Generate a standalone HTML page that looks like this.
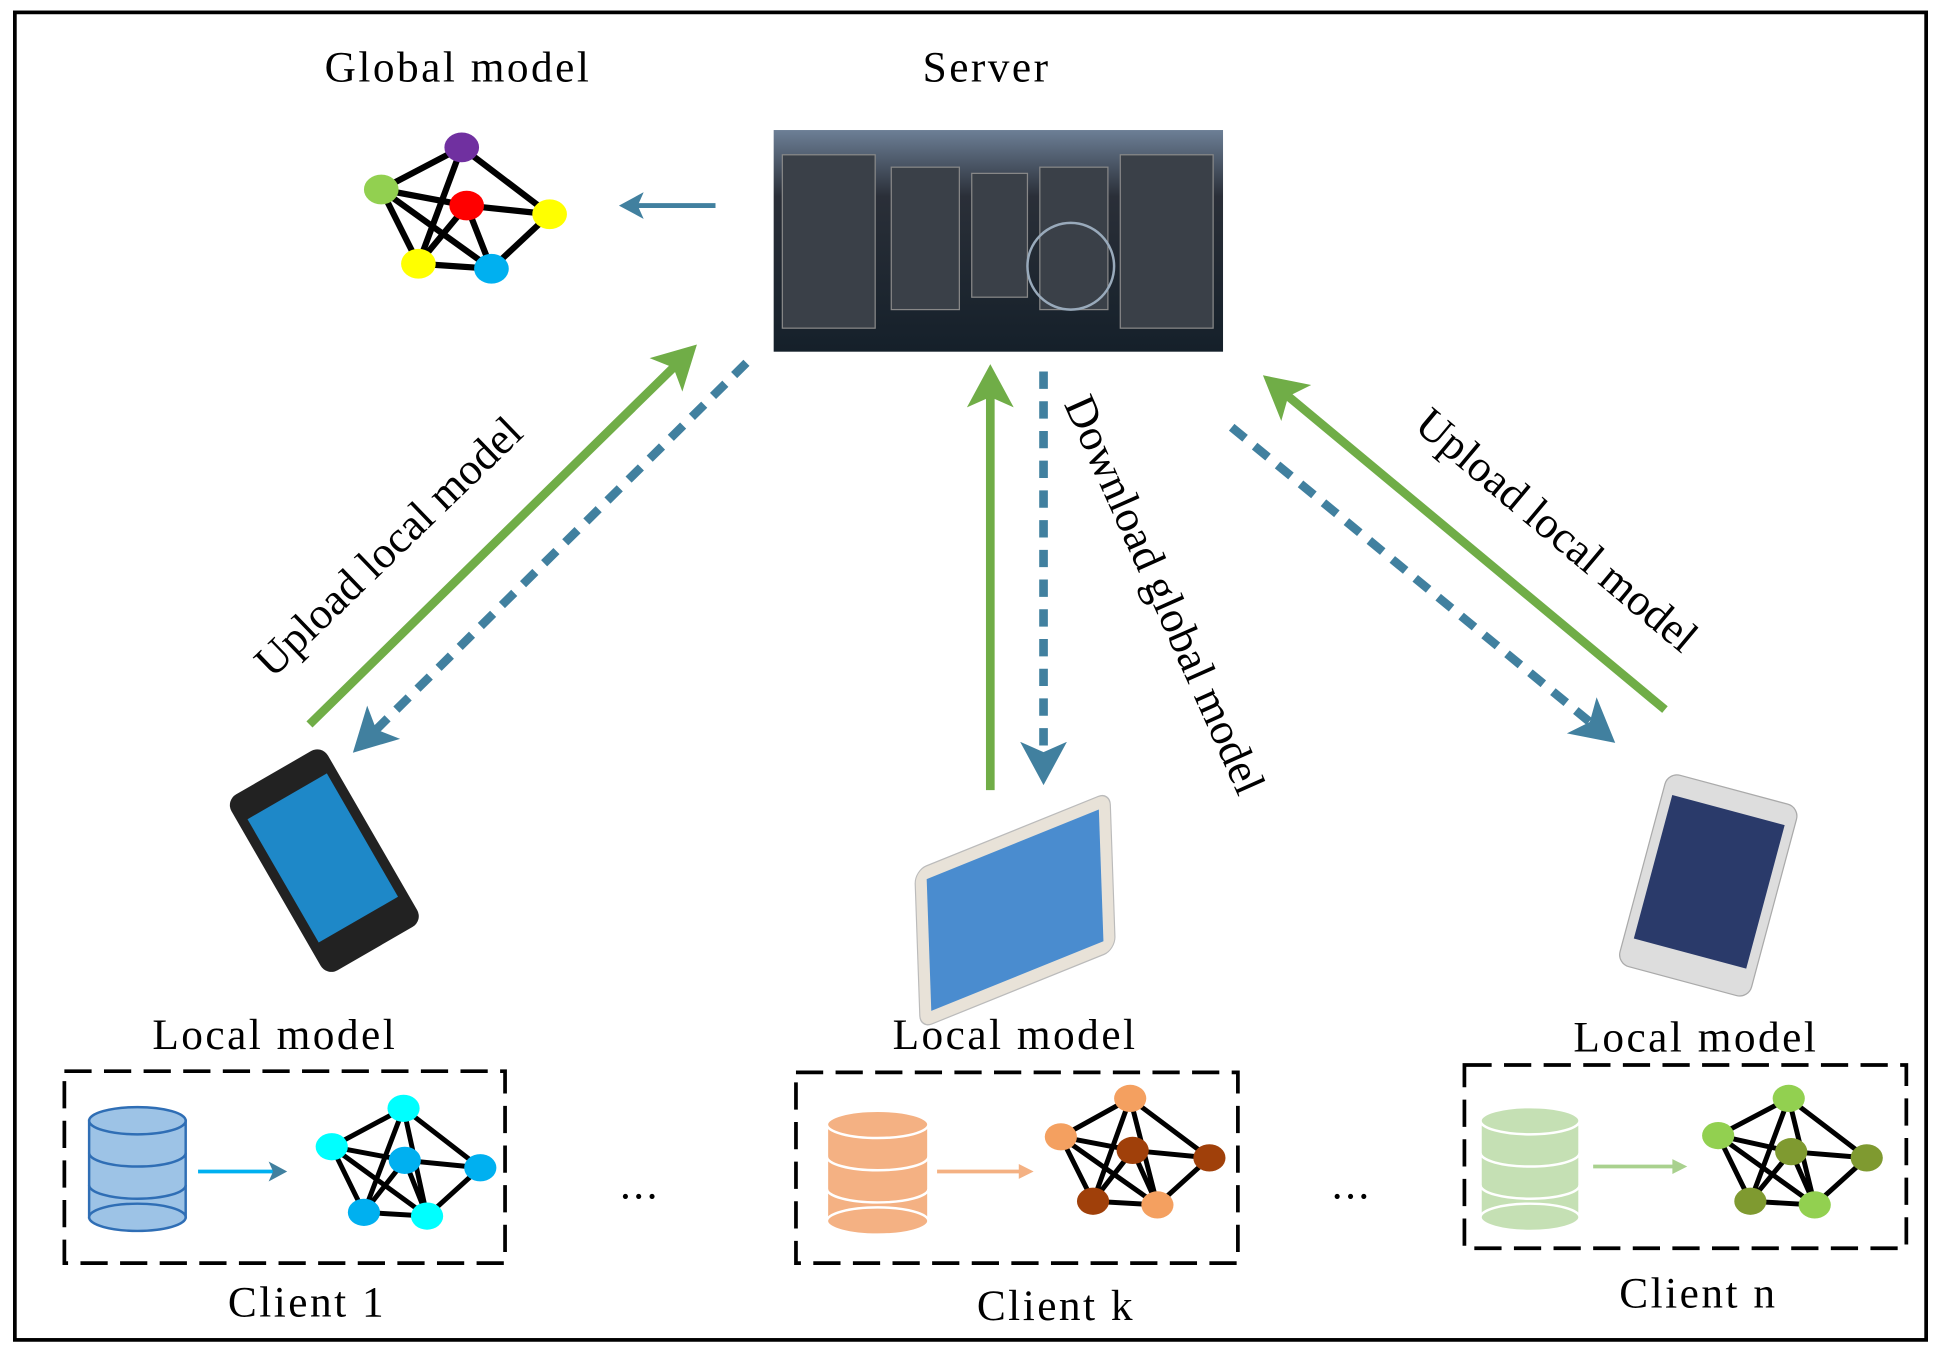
<!DOCTYPE html>
<html><head><meta charset="utf-8"><style>html,body{margin:0;padding:0;background:#fff}svg{display:block}</style></head>
<body>
<svg width="1941" height="1356" viewBox="0 0 1568 1095" preserveAspectRatio="none" xmlns="http://www.w3.org/2000/svg" font-family="Liberation Serif, serif">
<defs>
<marker id="ga" markerWidth="6" markerHeight="6" refX="3" refY="3" orient="auto" markerUnits="strokeWidth"><path d="M0,0.3 L5,3 L0,5.7 L1.2,3 Z" fill="#70ad47"/></marker>
<marker id="ba" markerWidth="6" markerHeight="6" refX="3" refY="3" orient="auto" markerUnits="strokeWidth"><path d="M0,0.3 L5,3 L0,5.7 L1.2,3 Z" fill="#41809f"/></marker>
<linearGradient id="srv" x1="0" y1="0" x2="0" y2="1"><stop offset="0" stop-color="#6d7f96"/><stop offset="0.3" stop-color="#2a2f38"/><stop offset="1" stop-color="#15202a"/></linearGradient>
</defs>
<rect x="12" y="10" width="1544" height="1072" fill="#fff" stroke="#000" stroke-width="3"/>
<g font-size="35" text-anchor="middle" letter-spacing="2">
<text x="370" y="66">Global  model</text>
<text x="797" y="66">Server</text>
<text x="222" y="847">Local model</text>
<text x="820" y="847">Local model</text>
<text x="1370" y="849">Local model</text>
<text x="248" y="1063">Client 1</text>
<text x="853" y="1066">Client k</text>
<text x="1372" y="1056">Client n</text>
<text x="517" y="968">...</text>
<text x="1092" y="968">...</text>
</g>
<g stroke="#000" stroke-width="5">
<line x1="373" y1="119" x2="308" y2="153"/><line x1="373" y1="119" x2="444" y2="173"/><line x1="373" y1="119" x2="338" y2="213"/>
<line x1="308" y1="153" x2="377" y2="166"/><line x1="308" y1="153" x2="338" y2="213"/><line x1="308" y1="153" x2="397" y2="217"/>
<line x1="377" y1="166" x2="444" y2="173"/><line x1="377" y1="166" x2="338" y2="213"/><line x1="377" y1="166" x2="397" y2="217"/>
<line x1="444" y1="173" x2="397" y2="217"/><line x1="338" y1="213" x2="397" y2="217"/>
</g>
<ellipse cx="373" cy="119" rx="14" ry="12" fill="#7030a0"/><ellipse cx="308" cy="153" rx="14" ry="12" fill="#92d050"/>
<ellipse cx="377" cy="166" rx="14" ry="12" fill="#f00"/><ellipse cx="444" cy="173" rx="14" ry="12" fill="#ff0"/>
<ellipse cx="338" cy="213" rx="14" ry="12" fill="#ff0"/><ellipse cx="397" cy="217" rx="14" ry="12" fill="#00b0f0"/>
<line x1="578" y1="166" x2="508" y2="166" stroke="#41809f" stroke-width="4" marker-end="url(#ba)"/>
<rect x="625" y="105" width="363" height="179" fill="url(#srv)"/>
<g fill="#3a4048" stroke="#888" stroke-width="1">
<rect x="632" y="125" width="75" height="140"/><rect x="720" y="135" width="55" height="115"/><rect x="785" y="140" width="45" height="100"/><rect x="840" y="135" width="55" height="115"/><rect x="905" y="125" width="75" height="140"/>
</g>
<circle cx="865" cy="215" r="35" fill="none" stroke="#9ab" stroke-width="2"/>
<g stroke-width="7" fill="none">
<line x1="250" y1="585" x2="553" y2="288" stroke="#70ad47" marker-end="url(#ga)"/>
<line x1="603" y1="293" x2="295" y2="598" stroke="#41809f" stroke-dasharray="14,10" marker-end="url(#ba)"/>
<line x1="800" y1="638" x2="800" y2="308" stroke="#70ad47" marker-end="url(#ga)"/>
<line x1="843" y1="300" x2="843" y2="620" stroke="#41809f" stroke-dasharray="14,10" marker-end="url(#ba)"/>
<line x1="1345" y1="573" x2="1031" y2="312" stroke="#70ad47" marker-end="url(#ga)"/>
<line x1="995" y1="345" x2="1294" y2="591" stroke="#41809f" stroke-dasharray="14,10" marker-end="url(#ba)"/>
</g>
<g font-size="36" text-anchor="middle">
<text transform="translate(322,450) rotate(-44)">Upload local model</text>
<text transform="translate(930,485) rotate(66)">Download global model</text>
<text transform="translate(1250,437) rotate(40)">Upload local model</text>
</g>
<g transform="translate(262,695) rotate(-30)"><rect x="-45" y="-82" width="90" height="164" rx="10" fill="#222"/><rect x="-37" y="-60" width="74" height="115" fill="#1e88c8"/></g>
<g transform="translate(820,735) rotate(-22) skewX(-20)"><rect x="-85" y="-60" width="170" height="120" rx="10" fill="#e8e2d8" stroke="#bbb"/><rect x="-75" y="-50" width="150" height="100" fill="#4a8ccf"/></g>
<g transform="translate(1380,715) rotate(15)"><rect x="-55" y="-80" width="110" height="160" rx="10" fill="#ddd" stroke="#aaa"/><rect x="-47" y="-63" width="94" height="120" fill="#2a3a6a"/></g>
<g fill="none" stroke="#000" stroke-width="3" stroke-dasharray="22,10">
<rect x="52" y="865" width="356" height="155"/><rect x="643" y="866" width="357" height="154"/><rect x="1183" y="860" width="357" height="148"/>
</g>
<g stroke="#fff" stroke-width="2">
<g fill="#9dc3e6" stroke="#2f6eb5"><rect x="72" y="905" width="78" height="78"/><ellipse cx="111" cy="983" rx="39" ry="11"/><ellipse cx="111" cy="905" rx="39" ry="11"/><path d="M72,931 a39,11 0 0 0 78,0 M72,957 a39,11 0 0 0 78,0" fill="none"/></g>
<g fill="#f4b183"><rect x="668" y="908" width="82" height="78"/><ellipse cx="709" cy="986" rx="41" ry="11"/><ellipse cx="709" cy="908" rx="41" ry="11"/><path d="M668,934 a41,11 0 0 0 82,0 M668,960 a41,11 0 0 0 82,0" fill="none"/></g>
<g fill="#c5e0b4"><rect x="1196" y="905" width="80" height="78"/><ellipse cx="1236" cy="983" rx="40" ry="11"/><ellipse cx="1236" cy="905" rx="40" ry="11"/><path d="M1196,931 a40,11 0 0 0 80,0 M1196,957 a40,11 0 0 0 80,0" fill="none"/></g>
</g>
<line x1="160" y1="946" x2="226" y2="946" stroke="#00b0f0" stroke-width="3" marker-end="url(#ba)"/>
<line x1="757" y1="946" x2="825" y2="946" stroke="#f4b183" stroke-width="3"/><path d="M823,940 L835,946 L823,952Z" fill="#f4b183"/>
<line x1="1287" y1="942" x2="1353" y2="942" stroke="#a9d18e" stroke-width="3"/><path d="M1351,936 L1363,942 L1351,948Z" fill="#a9d18e"/>
<g stroke="#000" stroke-width="4" fill="none">
<path d="M326,895L268,926L294,979L345,982L388,943L326,895L294,979M326,895L345,982M268,926L327,937L388,943M268,926L345,982M327,937L294,979M327,937L345,982"/>
<path d="M913,887L857,918L883,970L935,973L977,935L913,887L883,970M913,887L935,973M857,918L915,929L977,935M857,918L935,973M915,929L883,970M915,929L935,973"/>
<path d="M1445,887L1388,917L1414,970L1466,973L1508,935L1445,887L1414,970M1445,887L1466,973M1388,917L1447,930L1508,935M1388,917L1466,973M1447,930L1414,970M1447,930L1466,973"/>
</g>
<g fill="#00b0f0"><ellipse cx="327" cy="937" rx="13" ry="11"/><ellipse cx="294" cy="979" rx="13" ry="11"/><ellipse cx="388" cy="943" rx="13" ry="11"/></g>
<g fill="#00ffff"><ellipse cx="326" cy="895" rx="13" ry="11"/><ellipse cx="268" cy="926" rx="13" ry="11"/><ellipse cx="345" cy="982" rx="13" ry="11"/></g>
<g fill="#f4a060"><ellipse cx="913" cy="887" rx="13" ry="11"/><ellipse cx="857" cy="918" rx="13" ry="11"/><ellipse cx="935" cy="973" rx="13" ry="11"/></g>
<g fill="#a0400a"><ellipse cx="915" cy="929" rx="13" ry="11"/><ellipse cx="977" cy="935" rx="13" ry="11"/><ellipse cx="883" cy="970" rx="13" ry="11"/></g>
<g fill="#92d050"><ellipse cx="1445" cy="887" rx="13" ry="11"/><ellipse cx="1388" cy="917" rx="13" ry="11"/><ellipse cx="1466" cy="973" rx="13" ry="11"/></g>
<g fill="#7f9a30"><ellipse cx="1447" cy="930" rx="13" ry="11"/><ellipse cx="1508" cy="935" rx="13" ry="11"/><ellipse cx="1414" cy="970" rx="13" ry="11"/></g>
</svg>
</body></html>
